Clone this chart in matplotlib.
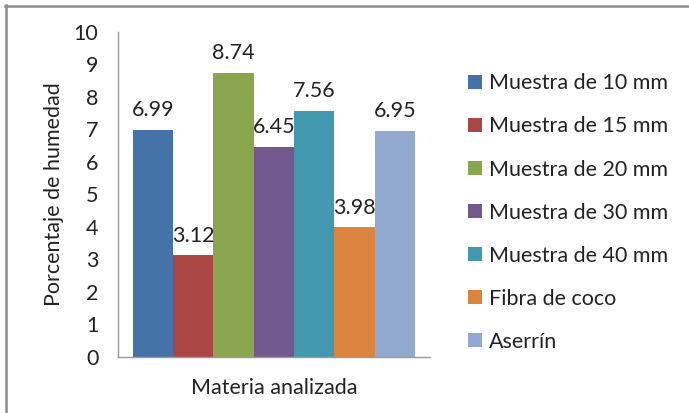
import matplotlib.pyplot as plt
from matplotlib.lines import Line2D
from matplotlib.patches import Patch

plt.rcParams['font.family'] = ['Lato', 'DejaVu Sans']

muestras = ['Muestra de 10 mm', 'Muestra de 15 mm', 'Muestra de 20 mm',
            'Muestra de 30 mm', 'Muestra de 40 mm', 'Fibra de coco', 'Aserrín']
humedad = [6.99, 3.12, 8.74, 6.45, 7.56, 3.98, 6.95]
colores = ['#4572A7', '#AA4643', '#89A54E', '#71588F', '#4198AF', '#DB843D', '#93A9CF']
yticks = [0, 1, 2, 3, 4, 5, 6, 7, 8, 9, 10]

fs = 15.5
fig = plt.figure(figsize=(6.89, 4.13), dpi=100)
ax = fig.add_axes([0.171, 0.136, 0.453, 0.787])

pos = list(range(len(humedad)))
bars = ax.bar(pos, humedad, width=1.0, color=colores, linewidth=0)
for b, v in zip(bars, humedad):
    ax.annotate(f'{v:.2f}', (b.get_x() + b.get_width() / 2, v),
                xytext=(0, 7), textcoords='offset points',
                ha='center', va='bottom', fontsize=fs, color='#222222')

ax.set_xlim(-0.87, len(humedad) - 0.13)
ax.set_ylim(0, 10)
ax.set_yticks(yticks)
ax.set_xticks([])
ax.tick_params(axis='y', length=0, labelsize=fs, pad=14, labelcolor='#222222')
for s in ['top', 'right']:
    ax.spines[s].set_visible(False)
for s in ['left', 'bottom']:
    ax.spines[s].set_color('#999999')
    ax.spines[s].set_linewidth(1)
ax.set_ylabel('Porcentaje de humedad', fontsize=fs, color='#222222', labelpad=7)
ax.set_xlabel('Materia analizada', fontsize=fs, color='#222222', labelpad=15)

handles = [Patch(facecolor=c, edgecolor='none') for c in colores]
fig.legend(handles, muestras, loc='upper left', bbox_to_anchor=(0.667, 0.843),
           frameon=False, fontsize=fs, handlelength=0.65, handleheight=0.65,
           handletextpad=0.3, labelspacing=1.07, borderaxespad=0,
           labelcolor='#222222')

# marco exterior: solo borde superior e izquierdo
fig.add_artist(Line2D([5 / 689, 1], [1 - 5.5 / 413, 1 - 5.5 / 413],
                      transform=fig.transFigure, color='#8c8c8c', linewidth=1.8))
fig.add_artist(Line2D([5.5 / 689, 5.5 / 689], [0, 1 - 5 / 413],
                      transform=fig.transFigure, color='#8c8c8c', linewidth=1.8))

fig.savefig('out.png', dpi=100)
